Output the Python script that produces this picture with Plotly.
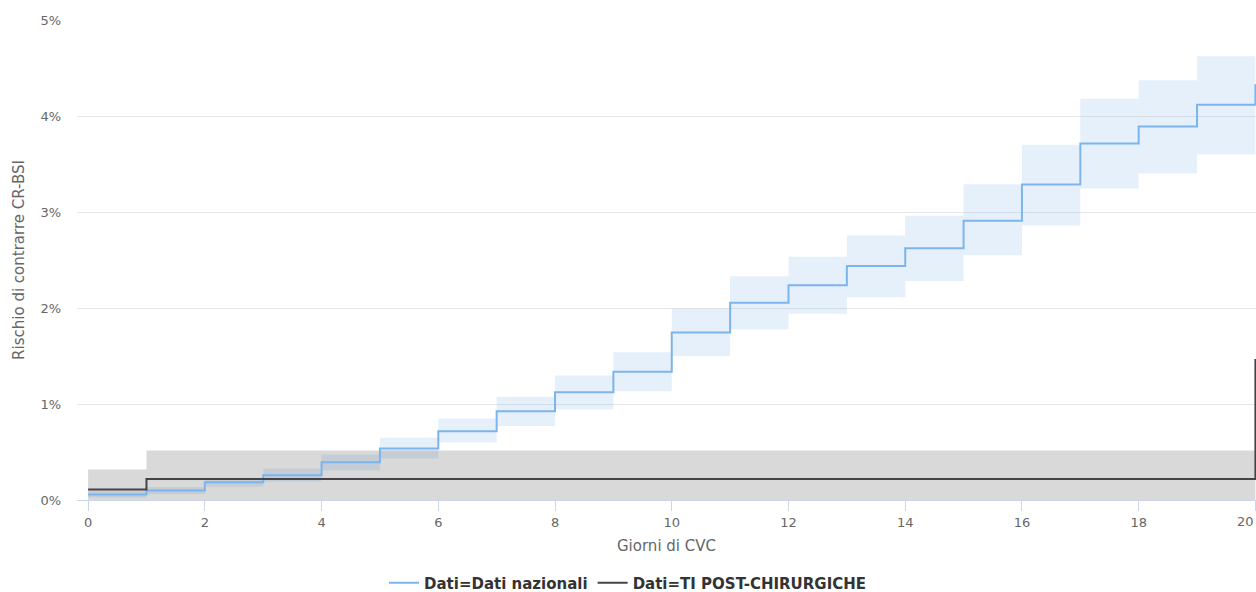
import plotly.graph_objects as go

# ---- data (percent) ----
giorni = [0, 1, 2, 3, 4, 5, 6, 7, 8, 9, 10, 11, 12, 13, 14, 15, 16, 17, 18, 19, 20]

naz_val = [0.057, 0.100, 0.185, 0.258, 0.392, 0.536, 0.717, 0.925, 1.123, 1.335,
           1.745, 2.054, 2.238, 2.437, 2.622, 2.910, 3.286, 3.714, 3.890, 4.117, 4.330]
naz_low = [0.025, 0.060, 0.140, 0.190, 0.307, 0.432, 0.600, 0.770, 0.943, 1.133,
           1.500, 1.776, 1.940, 2.113, 2.280, 2.550, 2.860, 3.245, 3.400, 3.600, 3.800]
naz_high = [0.095, 0.135, 0.212, 0.326, 0.474, 0.648, 0.849, 1.075, 1.297, 1.540,
            1.995, 2.331, 2.533, 2.755, 2.960, 3.290, 3.700, 4.180, 4.373, 4.623, 4.850]

ti_val = [0.110, 0.220, 0.220, 0.220, 0.220, 0.220, 0.220, 0.220, 0.220, 0.220,
          0.220, 0.220, 0.220, 0.220, 0.220, 0.220, 0.220, 0.220, 0.220, 0.220, 1.470]
ti_low = [0.0, 0.0, 0.0, 0.0, 0.0, 0.0, 0.0, 0.0, 0.0, 0.0,
          0.0, 0.0, 0.0, 0.0, 0.0, 0.0, 0.0, 0.0, 0.0, 0.0, 0.0]
ti_high = [0.318, 0.515, 0.515, 0.515, 0.515, 0.515, 0.515, 0.515, 0.515, 0.515,
           0.515, 0.515, 0.515, 0.515, 0.515, 0.515, 0.515, 0.515, 0.515, 0.515, 2.600]

x_ticks = [0, 2, 4, 6, 8, 10, 12, 14, 16, 18, 20]

series = [
    ("Dati=Dati nazionali", naz_val, naz_low, naz_high, "#7cb5ec", "rgba(124,181,236,0.2)"),
    ("Dati=TI POST-CHIRURGICHE", ti_val, ti_low, ti_high, "#434348", "rgba(67,67,72,0.2)"),
]

FONT = "DejaVu Sans"
fig = go.Figure()

# bands
for name, val, lo, hi, col, fcol in series:
    fig.add_trace(go.Scatter(x=giorni, y=hi, mode="lines", line=dict(width=0, shape="hv"),
                             showlegend=False, hoverinfo="skip"))
    fig.add_trace(go.Scatter(x=giorni, y=lo, mode="lines", line=dict(width=0, shape="hv"),
                             fill="tonexty", fillcolor=fcol, showlegend=False, hoverinfo="skip"))

# lines
for name, val, lo, hi, col, fcol in series:
    fig.add_trace(go.Scatter(x=giorni, y=val, mode="lines", name=name,
                             line=dict(color=col, width=2, shape="hv")))

# the last tick label is justified inside the chart (as in the reference)
tick_text = [str(t) for t in x_ticks[:-1]] + [""]
fig.add_annotation(x=x_ticks[-1], xref="x", xanchor="right", y=0, yref="paper",
                   yanchor="middle", yshift=-21, text=str(x_ticks[-1]), showarrow=False,
                   borderpad=0, font=dict(family=FONT, size=13, color="#666666"))

fig.update_layout(
    width=1256, height=592,
    margin=dict(l=77, r=0, t=20, b=92, autoexpand=False),
    paper_bgcolor="white", plot_bgcolor="white",
    font=dict(family=FONT, size=13, color="#666666"),
    legend=dict(orientation="h", xref="container", yref="container", traceorder="normal",
                x=0.5, xanchor="center", y=9 / 592, yanchor="middle",
                font=dict(family=FONT, size=15, color="#333333", weight="bold"),
                itemwidth=30),
    xaxis=dict(range=[-0.19, 20.01], tickmode="array", tickvals=x_ticks, ticktext=tick_text,
               automargin=False,
               showgrid=False, zeroline=False, showline=True, linecolor="#ccd6eb", linewidth=1,
               ticks="outside", ticklen=10, tickcolor="#ccd6eb",
               tickfont=dict(size=13, color="#666666"),
               title=dict(text="Giorni di CVC", font=dict(size=15, color="#666666"), standoff=11)),
    yaxis=dict(range=[0, 5], dtick=1, ticksuffix="%", showgrid=True, gridcolor="#e6e6e6",
               automargin=False,
               zeroline=False, showline=False, ticks="", ticklabelstandoff=15,
               tickfont=dict(size=13, color="#666666"),
               title=dict(text="Rischio di contrarre CR-BSI", font=dict(size=15, color="#666666"),
                          standoff=12)),
)

fig.write_html("out.html", config={"displayModeBar": False},
               post_script="document.body.style.margin='0';")
